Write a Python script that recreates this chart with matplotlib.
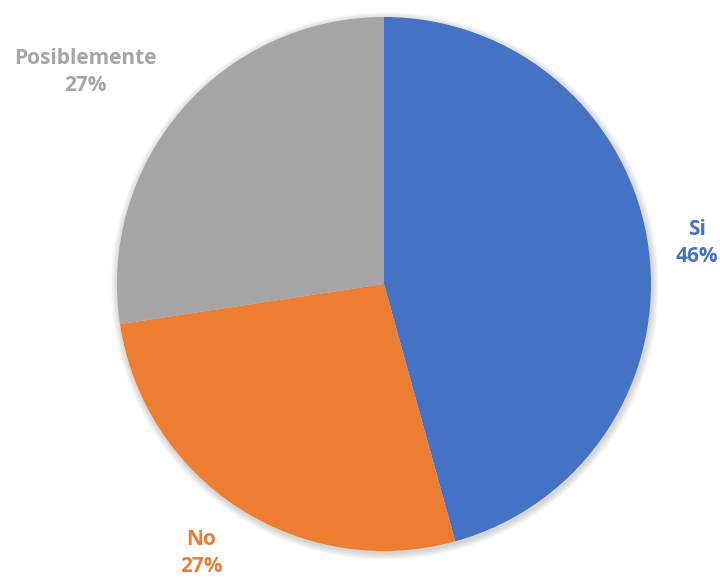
import matplotlib
matplotlib.use('Agg')
import matplotlib.pyplot as plt
from matplotlib.patches import Circle

labels = ['Si', 'No', 'Posiblemente']
values = [45.7, 26.9, 27.4]
colors = ['#4472C4', '#ED7D31', '#A5A5A5']

fig = plt.figure(figsize=(7.2, 5.8), dpi=100)
ax = fig.add_axes([0, 0, 1, 1])

cx, cy, r = 384, 296, 267

# soft shadow round the pie
for k in range(1, 8):
    ax.add_patch(Circle((cx + 1, cy - 2), r + k, color='black', alpha=0.025, lw=0, zorder=0))

ax.pie(values, colors=colors, startangle=90, counterclock=False,
       center=(cx, cy), radius=r,
       wedgeprops=dict(edgecolor='none', linewidth=0, zorder=2))

# pie() resets the limits, so set them afterwards
ax.set_xlim(0, 720)
ax.set_ylim(0, 580)
ax.set_aspect('equal')
ax.axis('off')

# label positions (pixel coords from the top-left)
label_pos = [(697, 243), (201, 553), (85, 72)]
for lab, val, col, (x, y) in zip(labels, values, colors, label_pos):
    ax.text(x, 580 - y, f'{lab}\n{round(val)}%', color=col, ha='center', va='center',
            fontsize=15, fontweight='bold', family='Open Sans', linespacing=1.4)

fig.savefig('out.png', dpi=100)
